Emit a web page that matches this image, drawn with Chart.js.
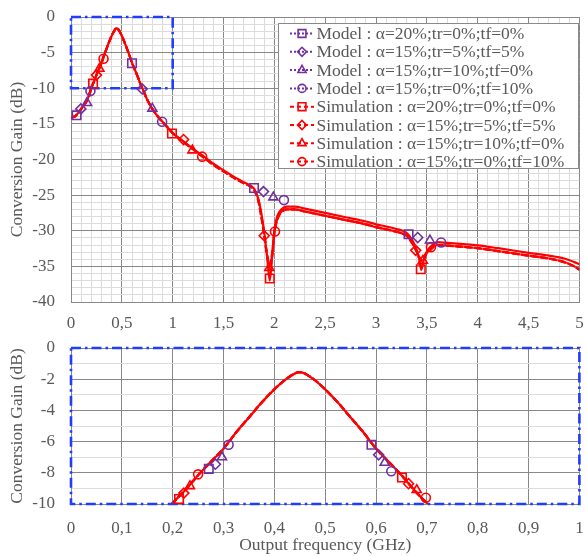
<!DOCTYPE html>
<html>
<head>
<meta charset="utf-8">
<script src="https://cdn.jsdelivr.net/npm/chart.js@4.4.1/dist/chart.umd.min.js"></script>
<style>
  body { margin: 0; background: #fff; }
  #haut { position: absolute; left: 0; top: 0; width: 587px; height: 336px; }
  #bas { position: absolute; left: 0; top: 336px; width: 587px; height: 220px; }
</style>
</head>
<body>
<div id="haut"><canvas id="c1" width="587" height="336"></canvas></div>
<div id="bas"><canvas id="c2" width="587" height="220"></canvas></div>
<script>
// ---- noms des séries (légende)
const seriesNames = [
  'Model : α=20%;tr=0%;tf=0%',
  'Model : α=15%;tr=5%;tf=5%',
  'Model : α=15%;tr=10%;tf=0%',
  'Model : α=15%;tr=0%;tf=10%',
  'Simulation : α=20%;tr=0%;tf=0%',
  'Simulation : α=15%;tr=5%;tf=5%',
  'Simulation : α=15%;tr=10%;tf=0%',
  'Simulation : α=15%;tr=0%;tf=10%'
];

// ---- courbes de simulation (GHz / dB)
const freqTop = [
  0, 0.05, 0.1, 0.15, 0.175, 0.2, 0.225, 0.25, 0.275, 0.3,
  0.325, 0.35, 0.375, 0.4, 0.425, 0.45, 0.475, 0.5, 0.525, 0.55,
  0.575, 0.6, 0.625, 0.65, 0.675, 0.7, 0.75, 0.8, 0.85, 0.9,
  0.95, 1.0, 1.1, 1.2, 1.3, 1.4, 1.5, 1.6, 1.7, 1.8,
  1.84, 1.87, 1.9, 1.93, 1.955, 1.98, 2.0, 2.03, 2.07, 2.12,
  2.2, 2.3, 2.5, 2.7, 2.9, 3.0, 3.1, 3.2, 3.3, 3.36,
  3.4, 3.425, 3.445, 3.47, 3.5, 3.54, 3.6, 3.7, 3.8, 4.0,
  4.2, 4.5, 4.7, 4.85, 4.95, 5.0
];
const simA20 = [
  -14.2, -13.8, -12.9, -11.9, -11.1, -9.95, -9.1, -8.15, -7.3, -6.45,
  -5.4, -4.45, -3.5, -2.65, -1.95, -1.55, -1.95, -2.65, -3.5, -4.45,
  -5.4, -6.45, -7.3, -8.15, -9.1, -9.95, -11.6, -12.9, -13.9, -14.7,
  -15.5, -16.3, -17.4, -18.5, -19.5, -20.6, -21.5, -22.4, -23.2, -24.1,
  -25.4, -27.4, -30.2, -33.8, -37.0, -33.2, -29.9, -27.9, -27.0, -26.6,
  -26.6, -26.9, -27.5, -28.1, -28.7, -29.1, -29.4, -29.75, -30.3, -31.4,
  -32.7, -34.0, -35.5, -34.0, -32.9, -32.2, -31.6, -31.7, -31.8, -32.05,
  -32.45, -33.1, -33.5, -33.9, -34.4, -34.7
];
const simB15 = [
  -14.2, -13.8, -12.9, -11.9, -11.1, -9.95, -9.1, -8.15, -7.3, -6.45,
  -5.4, -4.45, -3.5, -2.65, -1.95, -1.55, -1.95, -2.65, -3.5, -4.45,
  -5.4, -6.45, -7.3, -8.15, -9.1, -9.95, -11.6, -12.9, -13.9, -14.7,
  -15.5, -16.3, -17.45, -18.55, -19.65, -20.75, -21.65, -22.55, -23.35, -24.25,
  -25.7, -27.9, -30.7, -33.6, -34.8, -32.9, -30.4, -28.4, -27.4, -27.0,
  -27.0, -27.3, -27.9, -28.5, -29.1, -29.5, -29.8, -30.15, -30.7, -31.9,
  -33.0, -33.8, -34.2, -33.7, -33.1, -32.6, -32.0, -32.1, -32.2, -32.45,
  -32.85, -33.5, -33.9, -34.4, -35.0, -35.4
];
const simC15 = [
  -14.2, -13.8, -12.9, -11.9, -11.1, -9.95, -9.1, -8.15, -7.3, -6.45,
  -5.4, -4.45, -3.5, -2.65, -1.95, -1.55, -1.95, -2.65, -3.5, -4.45,
  -5.4, -6.45, -7.3, -8.15, -9.1, -9.95, -11.6, -12.9, -13.9, -14.7,
  -15.5, -16.3, -17.45, -18.55, -19.65, -20.75, -21.65, -22.55, -23.35, -24.25,
  -25.6, -27.7, -30.4, -33.7, -35.5, -33.4, -30.3, -28.3, -27.4, -27.0,
  -27.0, -27.3, -27.9, -28.5, -29.1, -29.5, -29.8, -30.15, -30.7, -31.7,
  -32.9, -33.9, -34.3, -34.1, -33.1, -32.6, -32.0, -32.1, -32.2, -32.45,
  -32.85, -33.5, -33.9, -34.4, -35.0, -35.5
];
const simD15 = [
  -14.2, -13.8, -12.9, -11.9, -11.1, -9.95, -9.1, -8.15, -7.3, -6.45,
  -5.4, -4.45, -3.5, -2.65, -1.95, -1.55, -1.95, -2.65, -3.5, -4.45,
  -5.4, -6.45, -7.3, -8.15, -9.1, -9.95, -11.6, -12.9, -13.9, -14.7,
  -15.5, -16.3, -17.45, -18.55, -19.65, -20.75, -21.65, -22.55, -23.35, -24.25,
  -25.6, -27.8, -30.5, -33.5, -35.0, -33.3, -30.3, -28.3, -27.3, -27.0,
  -27.0, -27.3, -27.9, -28.5, -29.1, -29.5, -29.8, -30.15, -30.7, -31.8,
  -32.9, -33.7, -34.0, -33.6, -33.0, -32.4, -32.0, -32.1, -32.2, -32.45,
  -32.85, -33.5, -33.9, -34.4, -35.0, -35.45
];

// ---- marqueurs, graphe du haut (x en GHz, y en dB)
const mkTopX = [
  [0.055, 0.6, 1.8, 3.32],
  [0.097, 0.70, 1.893, 3.41],
  [0.158, 0.80, 1.99, 3.53],
  [0.191, 0.896, 2.094, 3.64],
  [0.217, 0.993, 1.955, 3.44],
  [0.25, 1.107, 1.90, 3.39],
  [0.28, 1.194, 1.95, 3.46],
  [0.32, 1.29, 2.006, 3.54]
];
const mkTopY = [
  [-13.8, -6.5, -24.0, -30.5],
  [-12.9, -10.1, -24.5, -30.95],
  [-12.05, -12.85, -25.3, -31.35],
  [-10.4, -14.7, -25.7, -31.65],
  [-9.35, -16.35, -36.7, -35.4],
  [-8.15, -17.2, -30.7, -32.75],
  [-7.25, -18.7, -35.2, -34.2],
  [-5.85, -19.6, -30.1, -32.3]
];
// ---- marqueurs, zoom du bas
const mkBotX = [
  [0.271, 0.591], [0.284, 0.605], [0.297, 0.617], [0.31, 0.63],
  [0.2125, 0.651], [0.222, 0.664], [0.234, 0.68], [0.25, 0.698]
];
const mkBotY = [
  [-7.75, -6.2], [-7.45, -6.85], [-7.0, -7.35], [-6.2, -7.9],
  [-9.68, -8.3], [-9.3, -8.7], [-8.85, -9.1], [-8.1, -9.6]
];

// cadre de zoom (0..1 GHz, 0..-10 dB)
const zoomBoxX = [0, 1, 1, 0, 0];
const zoomBoxY = [0, 0, -10, -10, 0];

const violet = '#7030a0';
const rouge = '#ff0000';
const bleu = '#1f3cff';
const gris = '#595959';
const formes = ['rect', 'rectRot', 'triangle', 'circle'];
const tailles = [6, 5, 5.2, 4.5];
const serif = '"Liberation Serif", "Times New Roman", serif';

Chart.defaults.font.family = serif;
Chart.defaults.color = gris;

function pts(xs, ys) { return xs.map((x, i) => ({ x: x, y: ys[i] })); }
function virgule(v) { return String(Math.round(v * 10) / 10).replace('.', ','); }
function multiple(v, m) { return Math.abs(v / m - Math.round(v / m)) < 1e-6; }

function datasets(mkX, mkY) {
  const ds = [];
  for (let i = 0; i < 8; i++) {
    const modele = i < 4;
    ds.push({
      data: pts(mkX[i], mkY[i]),
      showLine: false,
      pointStyle: formes[i % 4],
      pointRadius: tailles[i % 4],
      pointBorderWidth: 1.6,
      pointBorderColor: modele ? violet : rouge,
      pointBackgroundColor: 'rgba(255,255,255,0)',
      order: 0
    });
  }
  const sims = [simA20, simB15, simC15, simD15];
  sims.forEach((s, k) => {
    ds.push({
      data: pts(freqTop, s),
      showLine: true,
      borderColor: rouge,
      borderWidth: 2.2,
      borderDash: k === 0 ? [] : [7, 2.5],
      pointRadius: 0,
      cubicInterpolationMode: 'monotone',
      clip: 0,
      order: 2
    });
  });
  ds.push({
    data: pts(zoomBoxX, zoomBoxY),
    showLine: true,
    borderColor: bleu,
    borderWidth: 2.6,
    borderDash: [10, 4, 2.5, 4],
    pointRadius: 0,
    tension: 0,
    clip: false,
    order: 1
  });
  return ds;
}

function caler(largeur, hauteur) {
  return function(scale) {
    if (largeur != null) scale.width = largeur;
    if (hauteur != null) scale.height = hauteur;
    scale.paddingLeft = 0; scale.paddingRight = 0;
    scale.paddingTop = 0; scale.paddingBottom = 0;
  };
}

const legendePlugin = {
  id: 'legendeCadre',
  afterDraw(chart) {
    const ctx = chart.ctx;
    ctx.save();
    ctx.fillStyle = '#fff';
    ctx.fillRect(278.5, 23.5, 300, 145);
    ctx.strokeStyle = '#8a8a8a';
    ctx.lineWidth = 1;
    ctx.strokeRect(278.5, 23.5, 300, 145);
    ctx.font = '17.5px ' + serif;
    ctx.textBaseline = 'middle';
    for (let i = 0; i < 8; i++) {
      const y = 33.5 + 18.3 * i;
      const modele = i < 4;
      const coul = modele ? violet : rouge;
      ctx.strokeStyle = coul;
      ctx.lineWidth = 2;
      ctx.setLineDash(modele ? [2, 2] : [4, 3]);
      ctx.beginPath();
      ctx.moveTo(290, y);
      ctx.lineTo(314, y);
      ctx.stroke();
      ctx.setLineDash([]);
      ctx.lineWidth = 1.6;
      ctx.fillStyle = 'rgba(255,255,255,0)';
      Chart.helpers.drawPoint(ctx, { pointStyle: formes[i % 4], radius: tailles[i % 4] - 0.5, rotation: 0, borderWidth: 1.6 }, 302, y);
      ctx.fillStyle = gris;
      ctx.fillText(seriesNames[i], 316.5, y + 1);
    }
    ctx.restore();
  }
};

const majeur = '#888888';
const mineur = '#dcdcdc';

// ---- graphe du haut
new Chart(document.getElementById('c1'), {
  type: 'scatter',
  data: { datasets: datasets(mkTopX, mkTopY) },
  options: {
    responsive: false,
    animation: false,
    layout: { padding: { top: 17, right: 2, left: 0, bottom: 0 } },
    plugins: { legend: { display: false }, tooltip: { enabled: false } },
    scales: {
      x: {
        type: 'linear', min: 0, max: 5,
        afterFit: caler(null, 34),
        ticks: {
          stepSize: 0.1, autoSkip: false, maxRotation: 0, padding: 11,
          font: { size: 17 }, color: gris,
          callback: v => multiple(v, 0.5) ? virgule(v) : ''
        },
        grid: { drawTicks: false, color: c => multiple(c.tick.value, 0.5) ? majeur : mineur },
        border: { color: majeur }
      },
      y: {
        type: 'linear', min: -40, max: 0,
        afterFit: caler(71, null),
        ticks: {
          stepSize: 1, autoSkip: false, padding: 16,
          font: { size: 17 }, color: gris,
          callback: v => multiple(v, 5) ? String(Math.round(v)) : ''
        },
        grid: { drawTicks: false, color: c => multiple(c.tick.value, 5) ? majeur : mineur },
        border: { color: majeur },
        title: { display: true, text: 'Conversion Gain (dB)', font: { size: 17.5 }, color: gris, padding: { top: 7, bottom: 0 } }
      }
    }
  },
  plugins: [legendePlugin]
});

// ---- zoom du bas
new Chart(document.getElementById('c2'), {
  type: 'scatter',
  data: { datasets: datasets(mkBotX, mkBotY) },
  options: {
    responsive: false,
    animation: false,
    layout: { padding: { top: 12, right: 2, left: 0, bottom: 0 } },
    plugins: { legend: { display: false }, tooltip: { enabled: false } },
    scales: {
      x: {
        type: 'linear', min: 0, max: 1,
        afterFit: caler(null, 52),
        ticks: {
          stepSize: 0.1, autoSkip: false, maxRotation: 0, padding: 14,
          font: { size: 17 }, color: gris,
          callback: v => virgule(v)
        },
        grid: { drawTicks: false, color: majeur },
        border: { color: majeur },
        title: { display: true, text: 'Output frequency (GHz)', font: { size: 17.5 }, color: gris, padding: { top: 0, bottom: 0 } }
      },
      y: {
        type: 'linear', min: -10, max: 0,
        afterFit: caler(71, null),
        ticks: {
          stepSize: 1, autoSkip: false, padding: 16,
          font: { size: 17 }, color: gris,
          callback: v => multiple(v, 2) ? String(Math.round(v)) : ''
        },
        grid: { drawTicks: false, color: c => multiple(c.tick.value, 2) ? majeur : mineur },
        border: { color: majeur },
        title: { display: true, text: 'Conversion Gain (dB)', font: { size: 17.5 }, color: gris, padding: { top: 7, bottom: 0 } }
      }
    }
  }
});
</script>
</body>
</html>
